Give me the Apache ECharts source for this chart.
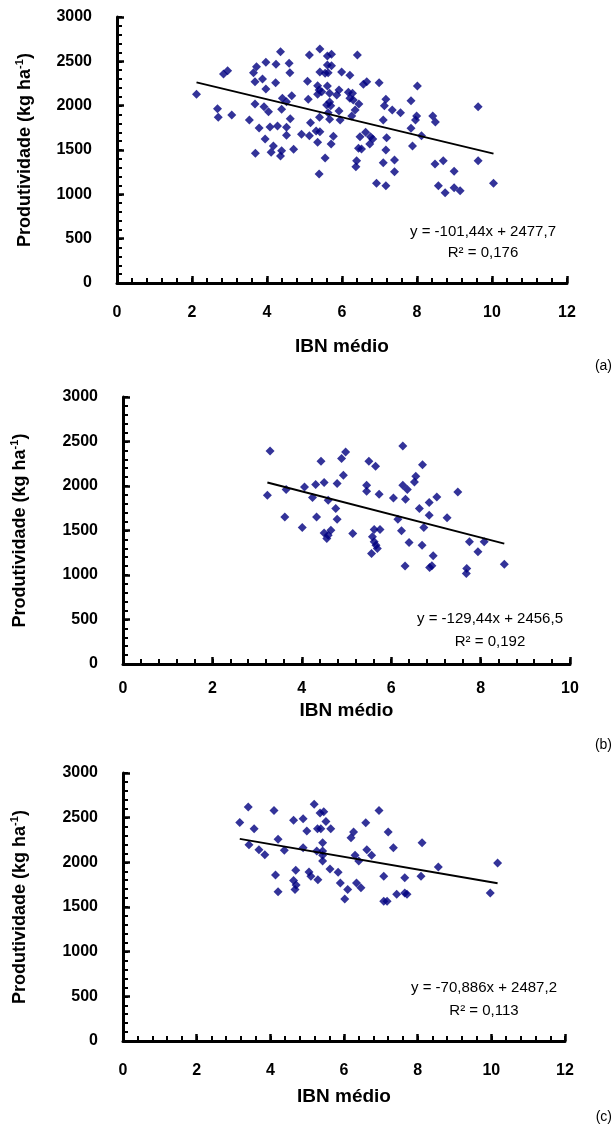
<!DOCTYPE html>
<html>
<head>
<meta charset="utf-8">
<script src="https://cdn.jsdelivr.net/npm/echarts@6/dist/echarts.min.js"></script>
<style>
html,body{margin:0;padding:0;background:#fff;}
#chart{width:616px;height:1127px;}
</style>
</head>
<body>
<div id="chart"></div>
<script>
// ---------- data ----------
const panelLabels = ['(a)', '(b)', '(c)'];
const xAxisMax = [12, 10, 12];
const xMajorStep = 2;
const xMinorStep = 0.4;
const yTicks = [0, 500, 1000, 1500, 2000, 2500, 3000];
const yMinorStep = 100;
const slopes = [-101.44, -129.44, -70.886];
const intercepts = [2477.7, 2456.5, 2487.2];
const equations = ['y = -101,44x + 2477,7', 'y = -129,44x + 2456,5', 'y = -70,886x + 2487,2'];
const r2Texts = ['0,176', '0,192', '0,113'];

const xA = [2.12,2.68,2.70,3.06,2.84,2.95,3.53,3.68,3.64,3.72,3.68,3.88,3.97,3.97,4.24,4.23,4.36,4.59,4.61,3.92,4.04,3.79,3.95,4.08,4.28,4.52,4.52,4.41,4.52,4.66,4.39,4.62,4.17,4.11,4.39,4.36,3.69,4.71,4.92,5.13,5.16,5.31,5.41,5.10,5.08,5.13,5.41,5.61,5.72,5.61,5.72,5.41,5.55,5.63,5.35,5.39,5.35,5.46,5.61,5.99,5.67,5.92,5.86,5.67,5.59,5.70,5.92,5.63,5.40,5.67,5.95,5.77,5.71,5.35,5.55,5.39,
  6.41,6.21,6.57,6.66,6.99,6.17,6.28,6.21,6.30,6.45,6.35,6.26,8.01,7.84,7.17,7.13,7.34,7.56,7.10,7.99,7.96,8.42,8.49,7.84,8.12,9.63,6.63,6.48,6.76,6.82,6.74,7.19,6.44,6.52,7.17,7.88,6.39,6.37,7.10,7.40,7.40,8.48,8.70,8.99,9.63,6.92,7.17,8.57,8.75,8.99,9.15,10.04];
const yA = [2128,1966,1868,1895,2357,2395,1838,2019,2372,2440,2271,2301,2489,2188,2466,2259,2609,2477,2372,1989,1932,1748,1624,1759,1771,1756,1665,2083,2045,2113,1959,1853,1545,1474,1492,1432,1462,1508,1677,1662,1808,1714,1707,2071,2274,2571,2639,2560,2579,2459,2451,2380,2365,2372,2226,2177,2128,2158,2222,2380,2139,2177,2120,2041,2007,2000,1940,1921,1868,1846,1838,1654,1568,1587,1410,1229,
  2571,2342,2241,2271,2259,2150,2139,2083,2064,2019,1951,1883,2222,2056,2071,2000,1951,1921,1838,1883,1838,1883,1816,1744,1662,1989,1699,1650,1650,1624,1568,1639,1519,1511,1500,1545,1380,1312,1357,1387,1256,1342,1380,1259,1380,1124,1098,1098,1019,1075,1041,1124];

const xB = [3.29,3.23,3.65,3.62,4.01,4.06,4.24,4.31,4.43,4.50,4.59,4.33,4.76,4.79,4.50,4.65,4.56,4.59,4.79,4.93,4.89,4.98,5.14,5.50,5.65,5.45,5.45,5.73,5.62,5.75,5.58,5.62,5.66,5.69,5.56,6.05,6.26,6.26,6.36,6.32,6.15,6.23,6.40,6.31,6.70,6.55,6.52,6.63,6.85,7.02,6.85,6.73,6.69,6.94,6.91,6.86,7.25,7.49,7.75,7.94,8.08,7.69,7.68,8.53];
const yB = [2394,1896,1960,1653,1534,1990,1870,2016,2278,2038,1840,1653,1747,1627,1473,1503,1410,1447,2027,2121,2308,2382,1466,2278,2222,2008,1941,1907,1511,1511,1429,1373,1335,1298,1242,1866,2450,2008,1960,1851,1627,1496,1365,1100,2240,2109,2046,1747,1814,1877,1672,1534,1335,1215,1103,1085,1642,1933,1373,1260,1373,1074,1017,1122];

const xC = [3.17,3.40,3.56,3.42,3.69,3.85,4.10,4.21,4.38,4.14,4.21,4.63,4.89,4.99,4.89,4.69,4.63,4.70,4.67,5.05,5.10,5.29,5.19,5.35,5.45,5.51,5.28,5.37,5.64,5.42,5.26,5.42,5.42,5.42,5.62,5.84,5.90,6.10,6.02,6.26,6.19,6.30,6.40,6.34,6.46,6.59,6.62,6.75,6.95,7.20,7.34,7.08,7.08,7.17,7.43,7.65,7.65,7.71,8.12,8.09,8.56,10.17,9.97];
const yC = [2447,2619,2376,2197,2141,2085,2581,2257,2134,1858,1671,2470,2488,2350,2164,1910,1798,1746,1697,1891,1843,1806,2649,2551,2567,2458,2376,2376,2376,2220,2126,2126,2078,2014,1925,1888,1768,1697,1589,2339,2276,2078,2014,1768,1716,2444,2141,2078,2581,2339,2164,1843,1563,1563,1642,1828,1656,1642,2220,1843,1947,1992,1656];

const xs = [xA, xB, xC];
const ys = [yA, yB, yC];

// ---------- layout ----------
const FONT = "'Liberation Sans', Arial, sans-serif";
const grids = [
  {left: 117, top: 17, width: 450, height: 266},
  {left: 123, top: 397, width: 447, height: 267},
  {left: 123, top: 773, width: 442, height: 268}
];
const xLabelMargin = [22, 17, 22];
const xNameGap = [54, 37, 46];
const yNameGap = [81, 92, 92];
const eqPos = [[483, 232], [490, 619], [484, 988]];
const r2Pos = [[483, 253], [490, 642], [484, 1011]];
const panelPos = [[612, 366], [612, 745], [612, 1117]];

const labelStyle = {color: '#000', fontFamily: FONT, fontWeight: 'bold', fontSize: 16};
function axisLine() { return {show: true, onZero: false, lineStyle: {color: '#000', width: 3}}; }
function majorTick() { return {show: true, inside: true, length: 7, lineStyle: {color: '#000', width: 2.5}}; }
function minorTickAxis(len) { return {show: true, inside: true, length: len, lineStyle: {color: '#000', width: 2}}; }

const xAxes = [], yAxes = [], series = [], graphics = [];
for (let i = 0; i < 3; i++) {
  xAxes.push({
    type: 'value', gridIndex: i, position: 'bottom', min: 0, max: xAxisMax[i], interval: xMajorStep,
    axisLine: axisLine(), axisTick: majorTick(), splitLine: {show: false},
    axisLabel: Object.assign({margin: xLabelMargin[i]}, labelStyle),
    name: 'IBN médio', nameLocation: 'middle', nameGap: xNameGap[i],
    nameTextStyle: {color: '#000', fontFamily: FONT, fontWeight: 'bold', fontSize: 19}
  });
  yAxes.push({
    type: 'value', gridIndex: i, position: 'left', min: yTicks[0], max: yTicks[yTicks.length - 1], interval: yTicks[1] - yTicks[0],
    axisLine: axisLine(), axisTick: majorTick(), splitLine: {show: false},
    axisLabel: Object.assign({margin: 25, formatter: v => String(v)}, labelStyle),
    name: 'Produtividade (kg ha{sup|-1})', nameLocation: 'middle', nameGap: yNameGap[i], nameRotate: 90,
    nameTextStyle: {color: '#000', fontFamily: FONT, fontWeight: 'bold', fontSize: 18, lineHeight: 22,
      rich: {sup: {color: '#000', fontFamily: FONT, fontWeight: 'bold', fontSize: 11, verticalAlign: 'top', lineHeight: 22}}}
  });
  const pts = xs[i].map((x, k) => [x, ys[i][k]]);
  series.push({
    type: 'scatter', xAxisIndex: i, yAxisIndex: i, data: pts,
    symbol: 'diamond', symbolSize: 9, itemStyle: {color: '#000080'}, silent: true, z: 3
  });
  const xmin = Math.min(...xs[i]), xmax = Math.max(...xs[i]);
  series.push({
    type: 'line', xAxisIndex: i, yAxisIndex: i, symbol: 'none', silent: true, z: 4,
    lineStyle: {color: '#000', width: 2},
    data: [[xmin, intercepts[i] + slopes[i] * xmin], [xmax, intercepts[i] + slopes[i] * xmax]]
  });
  graphics.push({type: 'text', x: eqPos[i][0], y: eqPos[i][1],
    style: {text: equations[i], fill: '#000', font: '15px ' + FONT, textAlign: 'center', textVerticalAlign: 'middle'}});
  graphics.push({type: 'text', x: r2Pos[i][0], y: r2Pos[i][1],
    style: {text: 'R² = ' + r2Texts[i], fill: '#000', font: '15px ' + FONT, textAlign: 'center', textVerticalAlign: 'middle'}});
  graphics.push({type: 'text', x: panelPos[i][0], y: panelPos[i][1],
    style: {text: panelLabels[i], fill: '#000', font: '14px ' + FONT, textAlign: 'right', textVerticalAlign: 'middle'}});
}
// minor-tick axes (no labels, no line), drawn on the same bottom / left sides
for (let i = 0; i < 3; i++) {
  xAxes.push({
    type: 'value', gridIndex: i, position: 'bottom', offset: 0, min: 0, max: xAxisMax[i], interval: xMinorStep,
    axisLine: {show: false, onZero: false}, axisTick: minorTickAxis(5), axisLabel: {show: false}, splitLine: {show: false}
  });
  yAxes.push({
    type: 'value', gridIndex: i, position: 'left', offset: 0, min: yTicks[0], max: yTicks[yTicks.length - 1], interval: yMinorStep,
    axisLine: {show: false, onZero: false}, axisTick: minorTickAxis(5), axisLabel: {show: false}, splitLine: {show: false}
  });
}

const chart = echarts.init(document.getElementById('chart'), null, {renderer: 'canvas'});
chart.setOption({
  animation: false,
  backgroundColor: '#fff',
  grid: grids,
  xAxis: xAxes,
  yAxis: yAxes,
  series: series,
  graphic: graphics
});
</script>
</body>
</html>
